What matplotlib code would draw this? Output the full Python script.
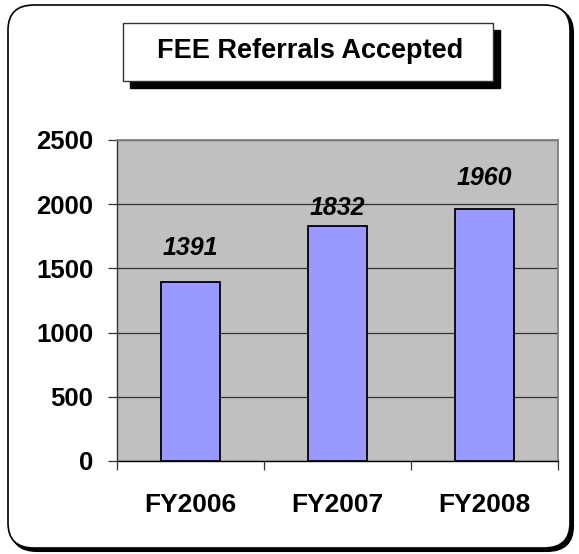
import matplotlib
matplotlib.use("Agg")
import matplotlib.pyplot as plt
from matplotlib.patches import FancyBboxPatch, Rectangle

categories = ["FY2006", "FY2007", "FY2008"]
values = [1391, 1832, 1960]
yticks = [0, 500, 1000, 1500, 2000, 2500]
title = "FEE Referrals Accepted"

# style: manual label offsets above bars (points)
label_offsets = [25, 13, 22.5]

plt.rcParams['font.family'] = ['Liberation Sans', 'DejaVu Sans']

W, H = 579, 554
fig = plt.figure(figsize=(W / 100, H / 100), dpi=100)

def fx(px):
    return px / W

def fy(py):
    return 1 - py / H

# outer rounded border with shadow
shadow = FancyBboxPatch((fx(11), fy(551)), fx(573) - fx(11), fy(8) - fy(551),
                        boxstyle="round,pad=0,rounding_size=0.045",
                        transform=fig.transFigure, facecolor="black",
                        edgecolor="black", lw=1.5, zorder=0)
fig.patches.append(shadow)
border = FancyBboxPatch((fx(8), fy(548)), fx(570) - fx(8), fy(5) - fy(548),
                        boxstyle="round,pad=0,rounding_size=0.045",
                        transform=fig.transFigure, facecolor="white",
                        edgecolor="black", lw=1.2, zorder=1)
fig.patches.append(border)

ax = fig.add_axes([fx(117), fy(461), fx(558) - fx(117), fy(140) - fy(461)])
ax.set_zorder(2)
ax.set_facecolor("#C0C0C0")
x = list(range(len(categories)))
ax.bar(x, values, width=0.40, color="#9999FF", edgecolor="black",
       linewidth=1.3, zorder=3)
ax.set_xlim(-0.5, len(categories) - 0.5)
ax.set_ylim(0, 2500)
ax.set_yticks(yticks)
ax.set_yticklabels([str(t) for t in yticks], fontsize=18.5, fontweight="bold")
ax.yaxis.grid(True, color="#333333", linewidth=0.9, zorder=1)
ax.set_axisbelow(True)
ax.set_xticks(x)
ax.set_xticklabels(categories, fontsize=19, fontweight="bold")
ax.tick_params(axis="x", length=0, pad=23)
ax.set_xticks([i - 0.5 for i in range(len(categories) + 1)], minor=True)
ax.tick_params(axis="x", which="minor", length=6.5, width=0.9, color="#333333")
ax.tick_params(axis="y", length=6.5, width=0.9, pad=10.5, color="#333333")
for s in ["top", "right"]:
    ax.spines[s].set_color("#808080")
    ax.spines[s].set_linewidth(1.3)
ax.spines["left"].set_color("#333333")
ax.spines["left"].set_linewidth(1.0)
ax.spines["bottom"].set_color("black")
ax.spines["bottom"].set_linewidth(1.0)

for xi, v, off in zip(x, values, label_offsets):
    ax.annotate(str(v), (xi, v), xytext=(0, off), textcoords="offset points",
                ha="center", va="center", fontsize=18, fontweight="bold",
                style="italic", zorder=5)

# title box with shadow
fig.patches.append(Rectangle((fx(130), fy(88)), fx(500) - fx(130), fy(30) - fy(88),
                             transform=fig.transFigure, facecolor="black",
                             edgecolor="black", zorder=2))
fig.patches.append(Rectangle((fx(123), fy(81)), fx(493) - fx(123), fy(23) - fy(81),
                             transform=fig.transFigure, facecolor="white",
                             edgecolor="#333333", lw=1.0, zorder=3))
fig.text(fx(310), fy(51.5), title, ha="center", va="center", fontsize=19.5,
         fontweight="bold", zorder=4)

fig.savefig("out.png", dpi=100)
